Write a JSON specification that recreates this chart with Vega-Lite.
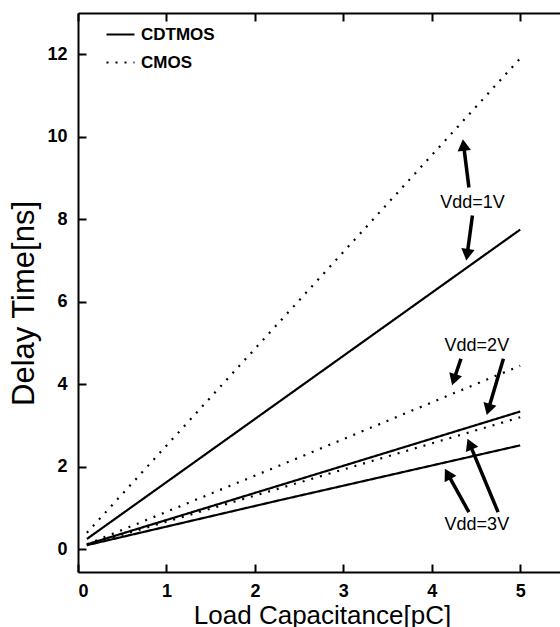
{
  "$schema": "https://vega.github.io/schema/vega-lite/v6.json",
  "width": 482,
  "height": 559,
  "autosize": {"type": "none"},
  "padding": {"left": 78, "top": 13, "right": 0, "bottom": 55},
  "background": "white",
  "config": {
    "view": {"stroke": null},
    "font": "Liberation Sans",
    "axis": {
      "grid": false,
      "domainColor": "black",
      "domainWidth": 2,
      "tickColor": "black",
      "tickWidth": 2,
      "tickSize": 8,
      "labelColor": "black",
      "labelFont": "Liberation Sans",
      "labelFontSize": 18,
      "labelFontWeight": "bold",
      "titleColor": "black",
      "titleFont": "Liberation Sans",
      "titleFontWeight": "normal"
    }
  },
  "datasets": {
    "curves": [
      {"vdd": "1V", "device": "CMOS", "load_pC": 0.1, "delay_ns": 0.4},
      {"vdd": "1V", "device": "CMOS", "load_pC": 5.0, "delay_ns": 11.9},
      {"vdd": "1V", "device": "CDTMOS", "load_pC": 0.1, "delay_ns": 0.25},
      {"vdd": "1V", "device": "CDTMOS", "load_pC": 5.0, "delay_ns": 7.75},
      {"vdd": "2V", "device": "CMOS", "load_pC": 0.1, "delay_ns": 0.12},
      {"vdd": "2V", "device": "CMOS", "load_pC": 2.28, "delay_ns": 2.03},
      {"vdd": "2V", "device": "CMOS", "load_pC": 5.0, "delay_ns": 4.45},
      {"vdd": "2V", "device": "CDTMOS", "load_pC": 0.1, "delay_ns": 0.12},
      {"vdd": "2V", "device": "CDTMOS", "load_pC": 2.28, "delay_ns": 1.55},
      {"vdd": "2V", "device": "CDTMOS", "load_pC": 5.0, "delay_ns": 3.34},
      {"vdd": "3V", "device": "CMOS", "load_pC": 0.1, "delay_ns": 0.1},
      {"vdd": "3V", "device": "CMOS", "load_pC": 5.0, "delay_ns": 3.2},
      {"vdd": "3V", "device": "CDTMOS", "load_pC": 0.1, "delay_ns": 0.1},
      {"vdd": "3V", "device": "CDTMOS", "load_pC": 2.28, "delay_ns": 1.19},
      {"vdd": "3V", "device": "CDTMOS", "load_pC": 5.0, "delay_ns": 2.52}
    ],
    "arrows": [
      {"label": "Vdd=1V", "x_tail": 4.42, "y_tail": 8.77, "x_head": 4.36, "y_head": 9.8, "dir": -7},
      {"label": "Vdd=1V", "x_tail": 4.46, "y_tail": 8.09, "x_head": 4.4, "y_head": 7.14, "dir": 188},
      {"label": "Vdd=2V", "x_tail": 4.33, "y_tail": 4.62, "x_head": 4.25, "y_head": 4.11, "dir": 198},
      {"label": "Vdd=2V", "x_tail": 4.81, "y_tail": 4.62, "x_head": 4.64, "y_head": 3.39, "dir": 196},
      {"label": "Vdd=3V", "x_tail": 4.42, "y_tail": 0.9, "x_head": 4.18, "y_head": 1.83, "dir": -29},
      {"label": "Vdd=3V", "x_tail": 4.75, "y_tail": 0.9, "x_head": 4.43, "y_head": 2.55, "dir": -23}
    ],
    "labels": [
      {"text": "Vdd=1V", "x": 4.46, "y": 8.4},
      {"text": "Vdd=2V", "x": 4.51, "y": 4.94},
      {"text": "Vdd=3V", "x": 4.51, "y": 0.58}
    ]
  },
  "resolve": {"axis": {"x": "independent", "y": "independent"}},
  "layer": [
    {
      "data": {"name": "curves"},
      "mark": {"type": "line", "color": "black", "strokeWidth": 2.2, "strokeCap": "butt"},
      "encoding": {
        "x": {
          "field": "load_pC", "type": "quantitative",
          "scale": {"domain": [0, 5.45], "nice": false, "zero": false},
          "axis": {
            "orient": "bottom", "values": [0, 1, 2, 3, 4, 5], "format": "d",
            "ticks": false, "labelPadding": 10,
            "title": "Load Capacitance[pC]", "titleFontSize": 26,
            "titleX": 244, "titleY": 51, "titleBaseline": "alphabetic", "titleAlign": "center"
          }
        },
        "y": {
          "field": "delay_ns", "type": "quantitative",
          "scale": {"domain": [-0.55, 13], "nice": false, "zero": false},
          "axis": {
            "orient": "left", "values": [0, 2, 4, 6, 8, 10, 12], "format": "d",
            "ticks": false, "labelPadding": 11,
            "title": "Delay Time[ns]", "titleFontSize": 31,
            "titleX": -45, "titleY": 290, "titleAngle": -90,
            "titleBaseline": "alphabetic", "titleAlign": "center"
          }
        },
        "strokeDash": {
          "field": "device", "type": "nominal",
          "scale": {"domain": ["CDTMOS", "CMOS"], "range": [[1, 0], [2, 7]]},
          "legend": {
            "title": null, "orient": "none", "legendX": 27, "legendY": 6,
            "symbolType": "stroke", "symbolSize": 784, "symbolStrokeWidth": 2.2,
            "symbolStrokeColor": "black",
            "labelFont": "Liberation Sans", "labelFontSize": 17, "labelFontWeight": "bold",
            "labelColor": "black", "labelOffset": 5, "rowPadding": 4
          }
        },
        "detail": {"field": "vdd", "type": "nominal"}
      }
    },
    {
      "data": {"name": "arrows"},
      "mark": {"type": "rule", "color": "black", "strokeWidth": 3.5},
      "encoding": {
        "x": {
          "field": "x_tail", "type": "quantitative",
          "axis": {"orient": "bottom", "offset": -559, "values": [0, 1, 2, 3, 4, 5], "labels": false, "title": null}
        },
        "y": {
          "field": "y_tail", "type": "quantitative",
          "axis": {"orient": "right", "offset": -482, "values": [0, 2, 4, 6, 8, 10, 12], "labels": false, "domain": false, "title": null}
        },
        "x2": {"field": "x_head"},
        "y2": {"field": "y_head"}
      }
    },
    {
      "data": {"name": "arrows"},
      "mark": {"type": "point", "shape": "triangle-up", "filled": true, "color": "black", "opacity": 1, "size": 180},
      "encoding": {
        "x": {
          "field": "x_head", "type": "quantitative",
          "axis": {"orient": "top", "offset": -559, "values": [0, 1, 2, 3, 4, 5], "labels": false, "domain": false, "title": null}
        },
        "y": {"field": "y_head", "type": "quantitative", "axis": null},
        "angle": {"field": "dir", "type": "quantitative", "scale": null}
      }
    },
    {
      "data": {"name": "labels"},
      "mark": {"type": "text", "font": "Liberation Sans", "fontSize": 18, "color": "black", "align": "center", "baseline": "middle"},
      "encoding": {
        "x": {"field": "x", "type": "quantitative", "axis": null},
        "y": {"field": "y", "type": "quantitative", "axis": null},
        "text": {"field": "text", "type": "nominal"}
      }
    }
  ]
}
